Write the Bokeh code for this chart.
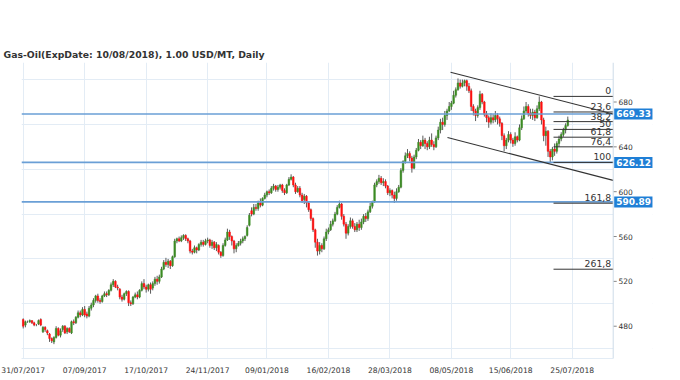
from bokeh.plotting import figure
from bokeh.models import Range1d, FixedTicker, Span, Label, ColumnDataSource, BoxAnnotation
from bokeh.core.properties import value
from bokeh.embed import file_html
from bokeh.resources import INLINE

title_text = "Gas-Oil(ExpDate: 10/08/2018), 1.00 USD/MT, Daily"

# ---- daily OHLC (trading-day index 0 = 31/07/2017) ----
opens = [
    486, 481, 484, 484, 485, 483, 481, 482, 486, 475,
    479, 476, 473, 469, 466, 470, 478, 472, 477, 480,
    475, 478, 474, 484, 483, 488, 492, 490, 495, 491,
    489, 496, 499, 503, 507, 503, 502, 507, 509, 508,
    512, 517, 520, 515, 513, 506, 504, 509, 511, 501,
    500, 506, 508, 506, 512, 518, 515, 513, 517, 514,
    518, 522, 520, 524, 531, 537, 535, 538, 534, 542,
    556, 558, 556, 559, 561, 558, 556, 547, 546, 550,
    548, 553, 555, 553, 556, 557, 552, 555, 550, 552,
    546, 543, 552, 557, 564, 560, 556, 549, 552, 554,
    556, 558, 561, 570, 583, 580, 586, 585, 590, 588,
    594, 597, 600, 599, 603, 605, 602, 604, 606, 601,
    599, 606, 611, 613, 606, 600, 603, 597, 593, 596,
    590, 584, 576, 566, 555, 547, 552, 549, 558, 564,
    566, 571, 574, 580, 586, 589, 578, 571, 563, 569,
    574, 569, 566, 571, 568, 573, 578, 576, 582, 587,
    591, 606, 609, 612, 608, 609, 605, 599, 601, 597,
    594, 600, 604, 619, 627, 632, 634, 630, 621, 631,
    637, 644, 641, 646, 643, 640, 646, 642, 640, 648,
    655, 662, 660, 668, 672, 676, 679, 686, 691, 697,
    694, 697, 699, 694, 690, 676, 672, 668, 675, 687,
    680, 669, 666, 662, 666, 664, 668, 665, 661, 650,
    641, 646, 651, 646, 643, 649, 646, 657, 665, 672,
    676, 670, 668, 671, 666, 674, 680, 664, 650, 654,
    636, 631, 638, 636, 643, 647, 651, 655, 659,
]
highs = [
    487, 485, 485, 486, 485, 484, 482, 486, 487, 480,
    480, 477, 474, 470, 471, 480, 479, 478, 481, 481,
    479, 479, 485, 486, 489, 494, 494, 497, 498, 493,
    498, 501, 505, 508, 509, 505, 508, 511, 511, 513,
    519, 522, 521, 517, 514, 508, 510, 512, 512, 503,
    507, 510, 511, 513, 520, 522, 517, 518, 519, 520,
    524, 525, 526, 533, 539, 541, 540, 539, 543, 558,
    559, 560, 561, 562, 562, 559, 557, 549, 552, 551,
    554, 557, 557, 558, 559, 558, 557, 556, 555, 553,
    547, 554, 559, 567, 566, 561, 557, 554, 556, 558,
    560, 561, 570, 581, 586, 589, 589, 592, 594, 595,
    599, 601, 602, 605, 607, 606, 606, 607, 607, 603,
    607, 613, 615.5, 614, 608, 605, 605, 599, 598, 597,
    591, 585, 577, 567, 558, 555, 554, 560, 567, 568,
    574, 576, 582, 588, 592, 590, 580, 573, 571, 577,
    576, 572, 573, 575, 576, 580, 581, 584, 590, 592,
    608, 611, 615, 614, 612, 611, 606, 603, 602, 600,
    603, 606, 621, 628, 635, 638, 636, 632, 633, 639,
    647, 646, 650, 648, 645, 649, 652, 645, 650, 658,
    665, 666, 672, 674, 680, 681, 690, 693, 701, 700,
    700, 700, 700, 697, 692, 678, 674, 677, 690, 688,
    681, 672, 668, 670, 669, 672, 670, 667, 662, 652,
    648, 654, 653, 648, 653, 650, 660, 668, 676, 680,
    678, 674, 674, 673, 677, 685, 681, 666, 658, 655,
    638, 640, 643, 645, 650, 653, 657, 661, 667,
]
lows = [
    478, 479, 483, 483, 482, 480, 480, 481, 480, 474,
    475, 472, 466, 465, 464, 469, 471, 470, 475, 473,
    473, 474, 473, 481, 482, 487, 488, 489, 488, 487,
    488, 494, 497, 501, 501, 500, 501, 506, 506, 507,
    511, 515, 514, 512, 504, 502, 503, 507, 498, 498,
    499, 505, 504, 505, 511, 513, 510, 511, 509, 512,
    516, 517, 518, 523, 530, 533, 532, 531, 533, 541,
    554, 555, 555, 557, 556, 554, 545, 544, 545, 545,
    547, 551, 551, 552, 554, 550, 549, 548, 547, 544,
    541, 542, 551, 556, 557, 552, 545, 546, 551, 552,
    554, 556, 560, 569, 578, 579, 583, 583, 586, 587,
    593, 595, 597, 598, 601, 600, 600, 602, 599, 597,
    598, 605, 610, 604, 598, 599, 595, 590, 589, 586,
    582, 574, 564, 550, 543, 544, 546, 548, 556, 562,
    565, 569, 573, 579, 585, 575, 569, 558, 561, 567,
    567, 564, 564, 565, 566, 571, 573, 574, 581, 585,
    590, 604, 607, 606, 605, 603, 597, 596, 594, 590,
    592, 599, 603, 617, 625, 630, 627, 617, 620, 629,
    636, 638, 640, 638, 637, 638, 640, 637, 639, 646,
    652, 655, 658, 664, 671, 673, 678, 684, 690, 692,
    693, 694, 690, 688, 672, 668, 663, 666, 673, 678,
    667, 662, 657, 660, 661, 662, 660, 658, 646, 636,
    638, 644, 643, 640, 641, 644, 645, 655, 664, 670,
    667, 665, 664, 663, 665, 672, 660, 645, 641, 631,
    626.12, 628, 632, 634, 640, 645, 649, 652, 658,
]
closes = [
    480, 484, 484, 485, 483, 481, 481, 485, 481, 479,
    477, 474, 469, 467, 470, 478, 472, 476, 480, 474,
    478, 475, 484, 483, 488, 492, 490, 495, 490, 489,
    496, 499, 503, 507, 503, 502, 507, 509, 508, 512,
    517, 520, 515, 514, 506, 504, 509, 511, 501, 500,
    506, 508, 506, 512, 518, 515, 513, 517, 513, 518,
    522, 520, 524, 531, 537, 535, 538, 534, 542, 556,
    558, 556, 559, 561, 558, 556, 547, 546, 550, 548,
    553, 555, 553, 556, 557, 552, 555, 550, 553, 546,
    543, 552, 557, 564, 560, 556, 549, 552, 554, 556,
    558, 560, 568, 579, 580, 586, 585, 590, 588, 594,
    597, 600, 599, 603, 605, 602, 604, 606, 601, 599,
    606, 611, 613, 606, 600, 603, 597, 592, 596, 590,
    584, 576, 566, 555, 547, 552, 549, 558, 564, 566,
    571, 574, 580, 586, 589, 578, 571, 563, 569, 574,
    569, 566, 571, 568, 573, 578, 576, 582, 587, 591,
    606, 609, 612, 608, 609, 605, 599, 601, 597, 594,
    600, 604, 619, 627, 632, 634, 630, 621, 631, 637,
    644, 641, 646, 643, 640, 646, 642, 640, 648, 655,
    662, 660, 668, 672, 676, 679, 686, 691, 697, 694,
    697, 699, 694, 690, 676, 672, 668, 675, 687, 680,
    669, 666, 662, 666, 664, 668, 665, 661, 650, 641,
    646, 651, 646, 643, 649, 646, 657, 665, 672, 676,
    670, 668, 671, 666, 674, 680, 664, 650, 654, 636,
    631, 638, 636, 643, 647, 651, 655, 659, 664,
]

# ---- axes ----
tick_index = [0, 28, 56, 84, 111, 139, 167, 195, 222, 250]
tick_labels = ["31/07/2017", "07/09/2017", "17/10/2017", "24/11/2017", "09/01/2018",
               "16/02/2018", "28/03/2018", "08/05/2018", "15/06/2018", "25/07/2018"]
price_ticks = [480, 520, 560, 600, 640, 680]
price_grid = [460, 500, 540, 580, 620, 660, 700]

# ---- annotations ----
levels = [669.33, 626.12, 590.89]
level_texts = ["669.33", "626.12", "590.89"]
fib_high = 685.0
fib_low = 626.12
fib_ratios = [0, 23.6, 38.2, 50, 61.8, 76.4, 100, 161.8, 261.8]
fib_texts = ["0", "23,6", "38,2", "50", "61,8", "76,4", "100", "161,8", "261,8"]
fib_start = 241.5
chan_upper_x = [194.6, 268.67]
chan_upper_y = [706.6, 669.3]
chan_lower_x = [193.2, 268.67]
chan_lower_y = [648.3, 610.1]

# layout (price axis sits at X_AXIS; the strip to its right holds the level tags)
X_START, X_AXIS, X_END = -0.77, 268.67, 286.57
Y_START, Y_END = 451.2, 715.24
GRID = "#e3ecf5"
FONT = "DejaVu Sans"

n = len(closes)
idx = list(range(n))
up = [i for i in idx if closes[i] > opens[i]]
dn = [i for i in idx if closes[i] < opens[i]]

p = figure(width=680, height=380,
           x_range=Range1d(X_START, X_END), y_range=Range1d(Y_START, Y_END),
           output_backend="svg", toolbar_location=None, y_axis_location="right",
           min_border_left=21, min_border_right=28, min_border_top=62, min_border_bottom=22,
           background_fill_color="white", border_fill_color="white")
p.outline_line_color = None

p.title.text = title_text
p.title.text_font = FONT
p.title.text_font_size = "9.3px"
p.title.text_font_style = "bold"
p.title.text_color = "#333333"
p.title.offset = -18
p.title.standoff = 6

xa = p.xaxis[0]
xa.ticker = FixedTicker(ticks=tick_index)
xa.major_label_overrides = {t: l for t, l in zip(tick_index, tick_labels)}
xa.bounds = (X_START, X_AXIS)
xa.major_tick_out = 0
xa.major_tick_in = 0
xa.minor_tick_out = 0
xa.minor_tick_in = 0
xa.axis_line_color = GRID
xa.major_label_text_font = FONT
xa.major_label_text_font_size = "7.6px"
xa.major_label_text_color = "#333333"
xa.major_label_standoff = 7

ya = p.yaxis[0]
ya.ticker = FixedTicker(ticks=price_ticks)
ya.major_tick_out = 0
ya.major_tick_in = 0
ya.minor_tick_out = 0
ya.minor_tick_in = 0
ya.axis_line_color = None
ya.major_label_text_font = FONT
ya.major_label_text_font_size = "7.5px"
ya.major_label_text_color = "#333333"
ya.major_label_standoff = -34

p.xgrid.grid_line_color = GRID
p.ygrid.ticker = FixedTicker(ticks=price_grid)
p.ygrid.grid_line_color = GRID

# blank strip right of the price axis (hides grid there)
p.add_layout(BoxAnnotation(left=X_AXIS, fill_color="white", fill_alpha=1.0,
                           line_color=None, level="underlay"))

# price axis line and tick marks
p.add_layout(Span(location=X_AXIS, dimension="height", line_color="#cddbe8", line_width=1))
p.segment(x0=[X_AXIS] * len(price_ticks), y0=price_ticks,
          x1=[X_AXIS + 1.6] * len(price_ticks), y1=price_ticks,
          line_color="#888888", line_width=1)

# candles
src = ColumnDataSource(dict(x=idx, o=opens, h=highs, l=lows, c=closes))
p.segment(x0="x", y0="l", x1="x", y1="h", source=src, line_color="#5a5a5a", line_width=1)
src_up = ColumnDataSource(dict(x=up, o=[opens[i] for i in up], c=[closes[i] for i in up]))
src_dn = ColumnDataSource(dict(x=dn, o=[opens[i] for i in dn], c=[closes[i] for i in dn]))
p.vbar(x="x", bottom="o", top="c", width=0.75, source=src_up,
       fill_color="#3c8c24", line_color="#3c8c24", line_width=0.5)
p.vbar(x="x", bottom="c", top="o", width=0.75, source=src_dn,
       fill_color="#ff1010", line_color="#ff1010", line_width=0.5)

# horizontal price levels
p.segment(x0=[X_START] * len(levels), y0=levels, x1=[X_AXIS] * len(levels), y1=levels,
          line_color="#6a9fd6", line_width=1.6)

# channel
p.line(chan_upper_x, chan_upper_y, line_color="#333333", line_width=1.1)
p.line(chan_lower_x, chan_lower_y, line_color="#333333", line_width=1.1)

# fibonacci
fib_vals = [fib_high - r / 100.0 * (fib_high - fib_low) for r in fib_ratios]
p.segment(x0=[fib_start] * len(fib_vals), y0=fib_vals, x1=[X_AXIS] * len(fib_vals), y1=fib_vals,
          line_color="#333333", line_width=1)
p.text(x=[X_AXIS] * len(fib_vals), y=fib_vals, text=fib_texts, text_align="right",
       text_baseline="bottom", x_offset=-2, y_offset=-2,
       text_font=value(FONT), text_font_size="9.3px", text_color="#333333")

# level tags
for lv, t in zip(levels, level_texts):
    p.add_layout(Label(x=X_AXIS, y=lv, text=t, x_offset=1, text_align="left",
                       text_baseline="middle", text_font=FONT, text_font_size="9px",
                       text_font_style="bold",
                       text_color="white", background_fill_color="#1f7fd6", padding=2))

open("out.html", "w").write(file_html(p, INLINE))
